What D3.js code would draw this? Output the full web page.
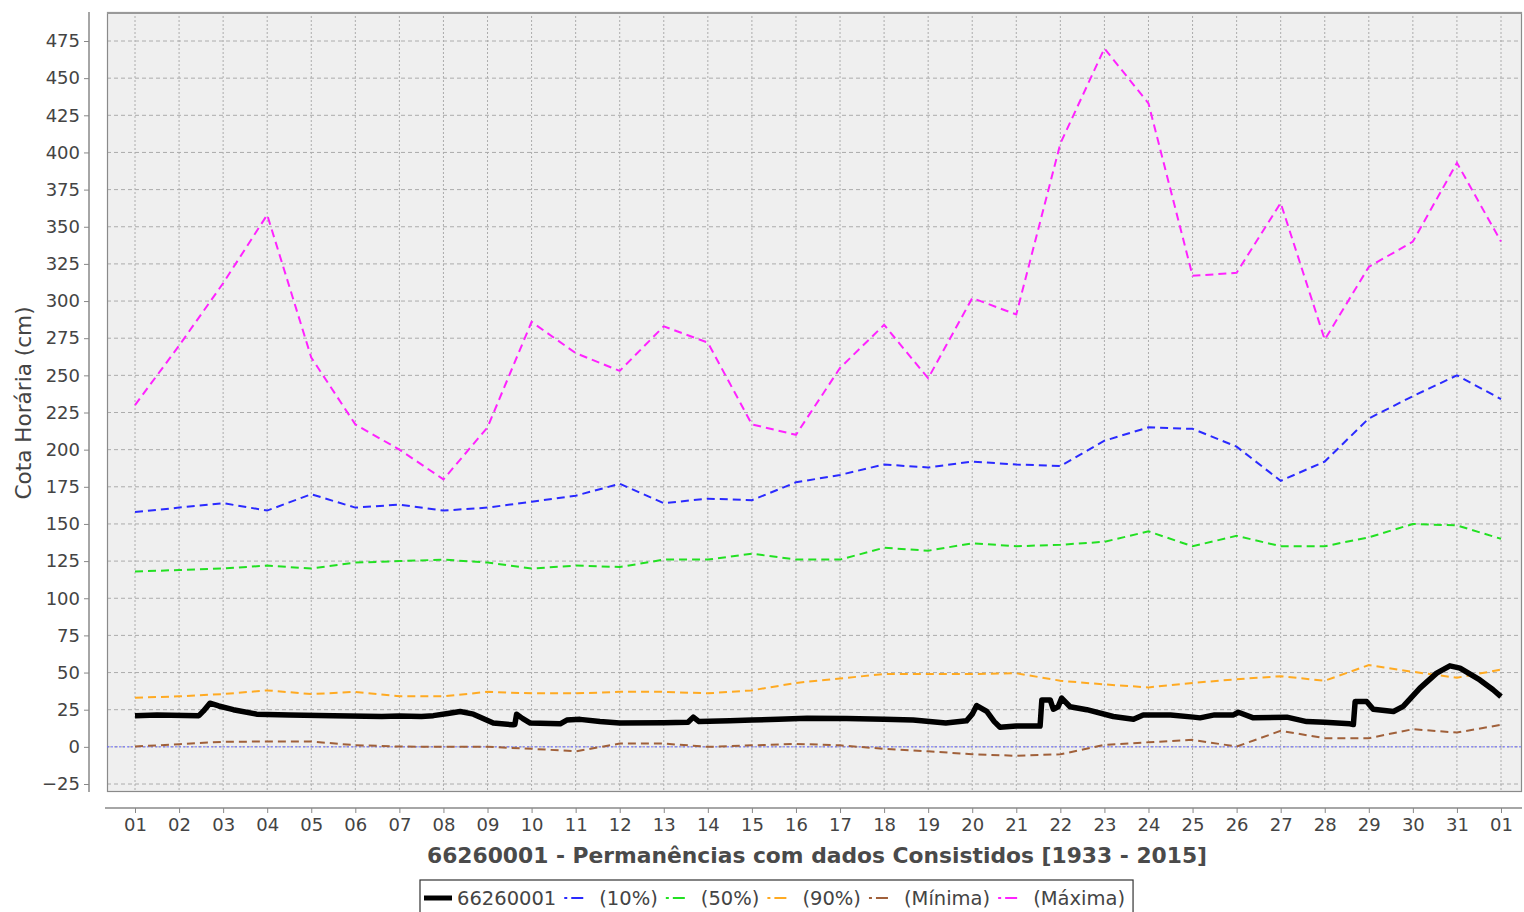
<!DOCTYPE html>
<html><head><meta charset="utf-8">
<script src="https://cdn.jsdelivr.net/npm/d3@7"></script>
<style>
html,body{margin:0;padding:0;background:#fff;}
svg{display:block;font-family:"DejaVu Sans",Verdana,sans-serif;}
</style></head>
<body>
<svg id="chart" width="1524" height="912"></svg>
<script>
// ---- data ----
const dayLabels = ["01","02","03","04","05","06","07","08","09","10","11","12","13","14","15","16","17","18","19","20","21","22","23","24","25","26","27","28","29","30","31","01"];
const yTicks = [-25,0,25,50,75,100,125,150,175,200,225,250,275,300,325,350,375,400,425,450,475];

const p10  = [158,161,164,159,170,161,163,159,161,165,169,177,164,167,166,178,183,190,188,192,190,189,206,215,214,202,179,192,221,236,250,234];
const p50  = [118,119,120,122,120,124,125,126,124,120,122,121,126,126,130,126,126,134,132,137,135,136,138,145,135,142,135,135,141,150,149,140];
const p90  = [33,34,35.5,38,35.5,37,34,34,37,36,36,37,37,36,38,43,46,49,49,49,49.5,44.5,42,40,43,45.5,47.5,44.5,55,50.5,46.5,52];
const pMin = [0.2,1.8,3.4,3.6,3.6,1.1,0.2,0,0,-1.3,-3,2.2,2.2,0,1,2,1,-1.3,-3,-5,-6,-5,1.3,3.1,4.7,0.2,10.8,5.8,5.8,11.9,9.6,14.8];
const pMax = [230,270,312,358,262,217,200,180,215,286,265,253,283,272,217,210,255,284,248,302,291,406,470,433,317,319,366,274,323,340,393,340];

// observed hourly stage (day offset from first tick, value in cm)
const obsT = [0,0.5,1.45,1.55,1.7,1.9,2.23,2.76,3.5,4.5,5.6,6.0,6.5,6.77,7.1,7.38,7.68,7.9,8.13,8.58,8.62,8.66,8.8,8.97,9.65,9.8,10.1,10.55,11.0,12.0,12.55,12.67,12.8,13.5,14.0,14.6,15.25,16.15,17.0,17.66,18.4,18.87,19.0,19.1,19.33,19.5,19.63,20.0,20.54,20.58,20.77,20.84,20.95,21.03,21.22,21.6,22.2,22.66,22.88,23.5,24.02,24.17,24.5,24.93,25.04,25.38,26.14,26.59,27.0,27.57,27.65,27.69,27.95,28.1,28.56,28.78,29.16,29.54,29.84,30.07,30.52,30.82,31.0];
const obsV = [21,21.5,21,24,29.4,27.5,25,22,21.5,21,20.4,20.8,20.5,21,22.5,23.8,22,19,16,14.8,15,22,19,16,15.5,18,18.5,17,16,16.2,16.5,20,17,17.5,18,18.5,19.3,19,18.5,18,16,17.5,22,27.8,23.8,17,13.2,14,14,31.6,31.6,25.3,27,32.8,27,25,20.4,18.6,21.5,21.5,20,19.5,21.5,21.5,23.3,19.5,20,17,16.5,15.5,15,30.5,30.5,25.3,23.8,27.2,39.5,49.6,54.5,53,45,38.4,33.8];

const seriesNames = ["66260001","(10%)","(50%)","(90%)","(Mínima)","(Máxima)"];
const seriesColors = ["#000000","#2a2aff","#22e022","#ffaa22","#a0603a","#ff22ff"];

const title = "66260001 - Permanências com dados Consistidos [1933 - 2015]";
const yTitle = "Cota Horária (cm)";

// ---- layout ----
const svg = d3.select("#chart");
const plot = {left:107, right:1522, top:12, bottom:792};

const x = d3.scaleLinear().domain([0,31]).range([135,1501]);
const y = d3.scaleLinear().domain([-25,475]).range([784,41]);

// plot background
svg.append("rect").attr("x",plot.left).attr("y",plot.top)
  .attr("width",plot.right-plot.left).attr("height",plot.bottom-plot.top)
  .attr("fill","#efefef");

svg.append("defs").append("clipPath").attr("id","clip")
  .append("rect").attr("x",plot.left).attr("y",plot.top)
  .attr("width",plot.right-plot.left).attr("height",plot.bottom-plot.top);

// grid
const grid = svg.append("g");
grid.selectAll(".gx").data(d3.range(dayLabels.length)).join("line")
  .attr("x1",d=>x(d)).attr("x2",d=>x(d)).attr("y1",plot.top).attr("y2",plot.bottom)
  .attr("stroke","#acacac").attr("stroke-width",1).attr("stroke-dasharray","2,2");
grid.selectAll(".gy").data(yTicks).join("line")
  .attr("x1",plot.left).attr("x2",plot.right).attr("y1",d=>y(d)).attr("y2",d=>y(d))
  .attr("stroke","#acacac").attr("stroke-width",1).attr("stroke-dasharray","4,3");

// border
svg.append("rect").attr("x",plot.left+0.5).attr("y",plot.top+0.5)
  .attr("width",plot.right-plot.left-1).attr("height",plot.bottom-plot.top-1)
  .attr("fill","none").attr("stroke","#8a8a8a").attr("stroke-width",1.2);
svg.append("line").attr("x1",plot.left).attr("x2",plot.right).attr("y1",plot.top+1).attr("y2",plot.top+1)
  .attr("stroke","#999").attr("stroke-width",2);

// zero marker
const g = svg.append("g").attr("clip-path","url(#clip)");
g.append("line").attr("x1",plot.left).attr("x2",plot.right).attr("y1",y(0)).attr("y2",y(0))
  .attr("stroke","#6a6aff").attr("stroke-width",1).attr("stroke-dasharray","2,2");

const line = d3.line().x((d,i)=>x(i)).y(d=>y(d));
const dashSeries = [p10,p50,p90,pMin,pMax];
dashSeries.forEach((s,k)=>{
  g.append("path").datum(s).attr("d",line).attr("fill","none")
   .attr("stroke",seriesColors[k+1]).attr("stroke-width",2)
   .attr("stroke-dasharray","8,5");
});

const obs = obsT.map((t,i)=>[t,obsV[i]]);
g.append("path").datum(obs)
  .attr("d",d3.line().x(d=>x(d[0])).y(d=>y(d[1])))
  .attr("fill","none").attr("stroke","#000").attr("stroke-width",5.5)
  .attr("stroke-linejoin","round");

// y axis
const yAxisG = svg.append("g").attr("transform","translate(89,0)")
  .call(d3.axisLeft(y).tickValues(yTicks).tickSize(5).tickPadding(4));
yAxisG.select(".domain").attr("d",`M0,${plot.top}V${plot.bottom}`).attr("stroke","#888").attr("stroke-width",1.5);
yAxisG.selectAll(".tick line").attr("stroke","#888");
yAxisG.selectAll("text").attr("font-size",18).attr("fill","#444").attr("font-family","DejaVu Sans");

// x axis
const xAxisG = svg.append("g").attr("transform","translate(0,808)")
  .call(d3.axisBottom(x).tickValues(d3.range(dayLabels.length)).tickFormat(i=>dayLabels[i]).tickSize(5).tickPadding(5));
xAxisG.select(".domain").attr("d",`M${plot.left-2},0H${plot.right}`).attr("stroke","#888").attr("stroke-width",1.5);
xAxisG.selectAll(".tick line").attr("stroke","#888");
xAxisG.selectAll("text").attr("font-size",18).attr("fill","#444").attr("font-family","DejaVu Sans");

// titles
svg.append("text").attr("x",(427+1207)/2).attr("y",863).attr("text-anchor","middle")
  .attr("font-size",21.8).attr("font-weight","bold").attr("fill","#4a4a4a").text(title);
svg.append("text").attr("transform","translate(31,403) rotate(-90)").attr("text-anchor","middle")
  .attr("font-size",21.6).attr("fill","#444").text(yTitle);

// legend
const lg = svg.append("g");
const box = lg.append("rect").attr("fill","#fff").attr("stroke","#333").attr("stroke-width",1.2);
let cx = 424;
const ly = 898;
seriesNames.forEach((n,i)=>{
  if(i===0){
    lg.append("line").attr("x1",cx).attr("x2",cx+28).attr("y1",ly).attr("y2",ly)
      .attr("stroke","#000").attr("stroke-width",5);
    cx += 33;
  } else {
    lg.append("line").attr("x1",cx).attr("x2",cx+20).attr("y1",ly).attr("y2",ly)
      .attr("stroke",seriesColors[i]).attr("stroke-width",2).attr("stroke-dasharray","3,4,9,0");
    cx += 35;
  }
  const t = lg.append("text").attr("x",cx).attr("y",ly+7).attr("font-size",19.5).attr("fill","#444").text(n);
  cx += t.node().getComputedTextLength() + 8;
});
box.attr("x",420).attr("y",880).attr("width",cx-420).attr("height",40);
</script>
</body></html>
